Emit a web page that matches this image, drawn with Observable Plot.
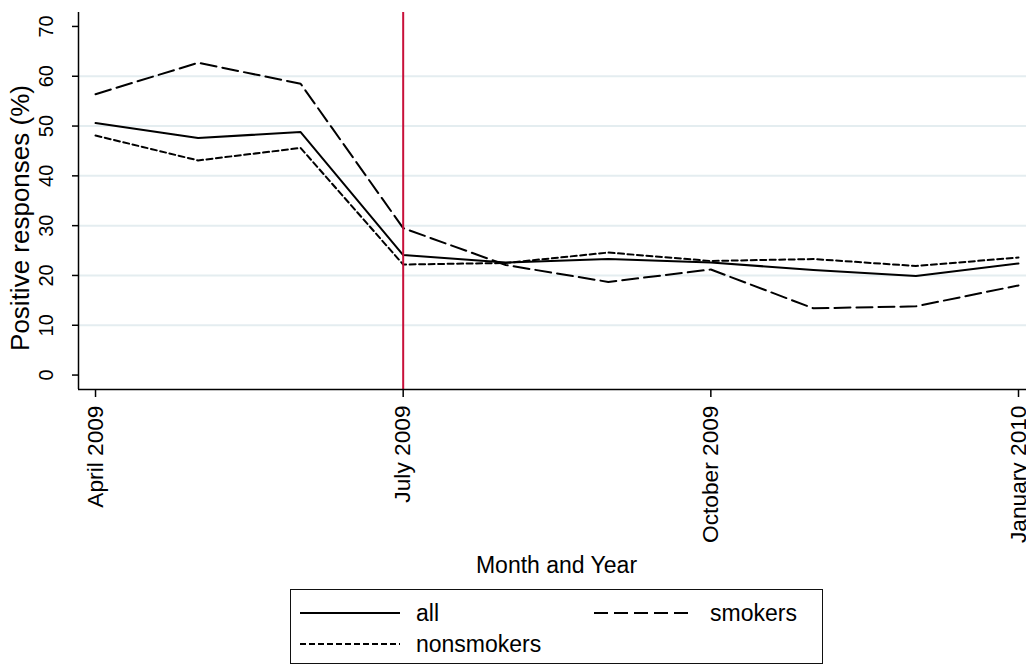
<!DOCTYPE html>
<html><head><meta charset="utf-8">
<script src="https://cdn.jsdelivr.net/npm/d3@7"></script>
<script src="https://cdn.jsdelivr.net/npm/@observablehq/plot@0.6"></script>
<style>
body{margin:0;background:#fff;font-family:"Liberation Sans",Arial,sans-serif}
#wrap{position:relative;width:1026px;height:665px;overflow:hidden;background:#fff}
#legend{position:absolute;left:290px;top:589px;width:531px;height:73px;border:1px solid #111;background:#fff}
#legend svg{display:block}
</style></head>
<body><div id="wrap"><div id="chart"></div><div id="legend"></div></div>
<script>
// month index 0 = April 2009 ... 9 = January 2010
const monthIndex = [0,1,2,3,4,5,6,7,8,9];
const allValues        = [50.6, 47.6, 48.8, 24.1, 22.6, 23.3, 22.6, 21.1, 19.9, 22.4];
const smokersValues    = [56.4, 62.7, 58.5, 29.5, 22.1, 18.7, 21.2, 13.4, 13.8, 18.0];
const nonsmokersValues = [48.1, 43.1, 45.6, 22.2, 22.5, 24.6, 22.9, 23.3, 21.9, 23.6];
const xTickPos    = [0, 3, 6, 9];
const xTickLabels = ["April 2009", "July 2009", "October 2009", "January 2010"];
const yTicks      = [0, 10, 20, 30, 40, 50, 60, 70];
const gridValues  = [10, 20, 30, 40, 50, 60];
const interventionMonth = [3];
const xDomain = [-0.166, 9.078];
const yDomain = [-2.9, 72.8];

const fam = '"Liberation Sans", Arial, Helvetica, sans-serif';
const mk = (vals) => monthIndex.map((i, k) => ({i, v: vals[k]}));

const chart = Plot.plot({
  width: 1026, height: 589,
  marginLeft: 78, marginTop: 12, marginRight: 0, marginBottom: 200,
  style: {fontFamily: fam, background: "#fff", color: "#000", overflow: "visible"},
  x: {type: "linear", domain: xDomain},
  y: {type: "linear", domain: yDomain},
  marks: [
    Plot.ruleY(gridValues, {stroke: "#e4edf0", strokeWidth: 2}),
    Plot.line(mk(allValues), {x: "i", y: "v", stroke: "#000", strokeWidth: 2}),
    Plot.line(mk(smokersValues), {x: "i", y: "v", stroke: "#000", strokeWidth: 2, strokeDasharray: "16,6"}),
    Plot.line(mk(nonsmokersValues), {x: "i", y: "v", stroke: "#000", strokeWidth: 2, strokeDasharray: "6,3.5"}),
    Plot.ruleX(interventionMonth, {stroke: "#c8103a", strokeWidth: 2}),
    Plot.ruleX([xDomain[0]], {stroke: "#000", strokeWidth: 1.5}),
    Plot.ruleY([yDomain[0]], {stroke: "#000", strokeWidth: 1.5}),
    Plot.axisX({ticks: xTickPos, tickFormat: () => "", tickSize: 8, strokeWidth: 1.5, label: null}),
    Plot.axisY({ticks: yTicks, tickFormat: () => "", tickSize: 6, strokeWidth: 1.5, label: null}),
    Plot.text(xTickPos, {x: d => d, text: (d, k) => xTickLabels[k], frameAnchor: "bottom", dy: 16,
      rotate: -90, textAnchor: "end", lineAnchor: "middle", fontSize: 22.7, fill: "#000"}),
    Plot.text(yTicks, {y: d => d, text: d => String(d), frameAnchor: "left", dx: -32,
      rotate: -90, textAnchor: "middle", lineAnchor: "middle", fontSize: 20, fill: "#000"}),
    Plot.text(["Month and Year"], {frameAnchor: "bottom", dx: 4, dy: 176, text: d => d,
      fontSize: 23, lineAnchor: "middle", fill: "#000"}),
    Plot.text(["Positive responses (%)"], {frameAnchor: "left", dx: -58, dy: 17, text: d => d,
      rotate: -90, fontSize: 26, lineAnchor: "middle", textAnchor: "middle", fill: "#000"})
  ]
});
document.getElementById("chart").appendChild(chart);

// legend
const legendItems = [
  {label: "all", dash: null, lx: 9, ly: 23},
  {label: "smokers", dash: "14,6", lx: 303, ly: 23},
  {label: "nonsmokers", dash: "6,3", lx: 9, ly: 54}
];
const ns = "http://www.w3.org/2000/svg";
const lsvg = document.createElementNS(ns, "svg");
lsvg.setAttribute("width", 531); lsvg.setAttribute("height", 73);
for (const it of legendItems) {
  const ln = document.createElementNS(ns, "line");
  ln.setAttribute("x1", it.lx); ln.setAttribute("x2", it.lx + 100);
  ln.setAttribute("y1", it.ly); ln.setAttribute("y2", it.ly);
  ln.setAttribute("stroke", "#000"); ln.setAttribute("stroke-width", 2);
  if (it.dash) ln.setAttribute("stroke-dasharray", it.dash);
  lsvg.appendChild(ln);
  const tx = document.createElementNS(ns, "text");
  tx.setAttribute("x", it.lx + 116); tx.setAttribute("y", it.ly);
  tx.setAttribute("dy", "0.35em");
  tx.setAttribute("font-size", 23); tx.setAttribute("font-family", fam);
  tx.textContent = it.label;
  lsvg.appendChild(tx);
}
document.getElementById("legend").appendChild(lsvg);
</script>
</body></html>
